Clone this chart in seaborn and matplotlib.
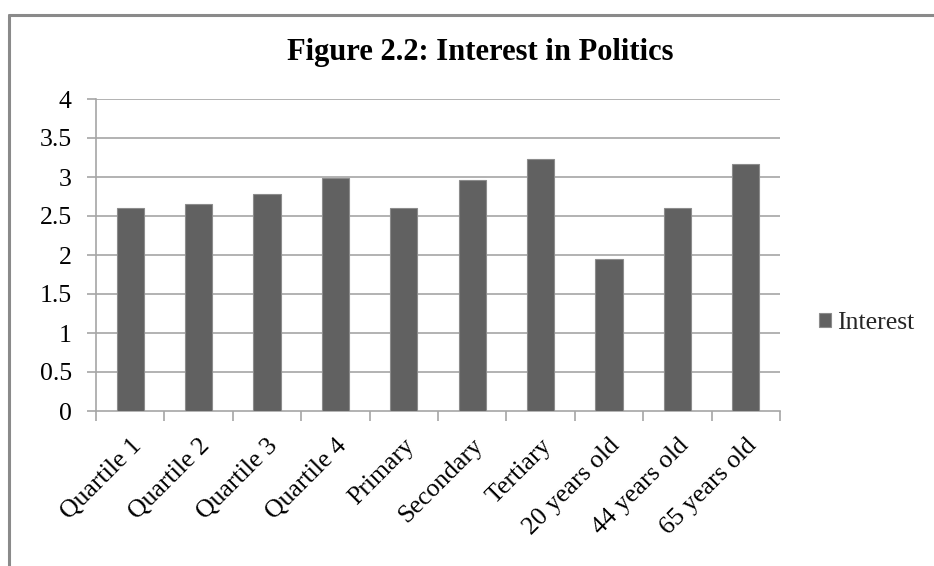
import matplotlib
matplotlib.use("Agg")
import matplotlib.pyplot as plt
from matplotlib.lines import Line2D
from matplotlib.patches import Patch
import seaborn as sns
import pandas as pd

categories = ["Quartile 1", "Quartile 2", "Quartile 3", "Quartile 4", "Primary",
              "Secondary", "Tertiary", "20 years old", "44 years old", "65 years old"]
interest = [2.60, 2.66, 2.78, 2.99, 2.60, 2.96, 3.23, 1.95, 2.60, 3.17]
y_ticks = [0, 0.5, 1, 1.5, 2, 2.5, 3, 3.5, 4]
y_tick_labels = ["0", "0.5", "1", "1.5", "2", "2.5", "3", "3.5", "4"]
series_name = "Interest"
title = "Figure 2.2: Interest in Politics"

sns.set_theme(style="white")
plt.rcParams["font.family"] = ["Liberation Serif", "DejaVu Serif"]

df = pd.DataFrame({"category": categories, "value": interest})

bar_color = "#616161"
grid_color = "#a6a6a6"
text_color = "#000000"
label_size = 18.5

fig = plt.figure(figsize=(9.34, 5.66), dpi=100)
ax = fig.add_axes([96 / 934, 1 - 411 / 566, (780 - 96) / 934, (411 - 99) / 566])

sns.barplot(data=df, x="category", y="value", color=bar_color, width=0.4,
            edgecolor="#8c8c8c", linewidth=0.8, saturation=1, ax=ax, zorder=3)

ax.set_ylim(0, 4)
ax.set_xlim(-0.5, len(categories) - 0.5)
ax.set_yticks(y_ticks)
ax.set_yticklabels(y_tick_labels)
ax.set_xlabel("")
ax.set_ylabel("")

for y in y_ticks[1:]:
    ax.axhline(y, color=grid_color, linewidth=1.2, zorder=1)

for side in ["top", "right"]:
    ax.spines[side].set_visible(False)
for side in ["left", "bottom"]:
    ax.spines[side].set_color(grid_color)
    ax.spines[side].set_linewidth(1.2)

ax.tick_params(axis="y", which="major", length=6.5, width=1.2, color=grid_color,
               labelsize=label_size, labelcolor=text_color, pad=11, left=True)
ax.set_xticks([i for i in range(len(categories))])
ax.set_xticklabels(categories, rotation=45, ha="right", va="top",
                   rotation_mode="anchor", fontsize=label_size, color=text_color)
ax.tick_params(axis="x", which="major", length=0, pad=17)
# category separator ticks below the axis
ax.set_xticks([i - 0.5 for i in range(len(categories) + 1)], minor=True)
ax.tick_params(axis="x", which="minor", length=7, width=1.2, color=grid_color, bottom=True)

fig.text(480 / 934, 1 - 60 / 566, title, ha="center", va="baseline",
         fontsize=22, fontweight="bold", color=text_color)

handle = Patch(facecolor=bar_color, edgecolor="#8c8c8c", linewidth=0.8)
fig.legend([handle], [series_name], loc="center left",
           bbox_to_anchor=(819 / 934, 1 - 323 / 566), frameon=False,
           fontsize=label_size, handlelength=0.47, handleheight=0.47, handletextpad=0.25,
           borderpad=0, borderaxespad=0)

# outer chart frame (left and top edges visible)
fig.add_artist(Line2D([9 / 934, 9 / 934], [0, 1 - 15 / 566], color="#8a8a8a",
                      linewidth=2.2, transform=fig.transFigure))
fig.add_artist(Line2D([9 / 934, 1], [1 - 15 / 566, 1 - 15 / 566], color="#8a8a8a",
                      linewidth=2.2, transform=fig.transFigure))

fig.savefig("out.png", dpi=100, facecolor="white")
